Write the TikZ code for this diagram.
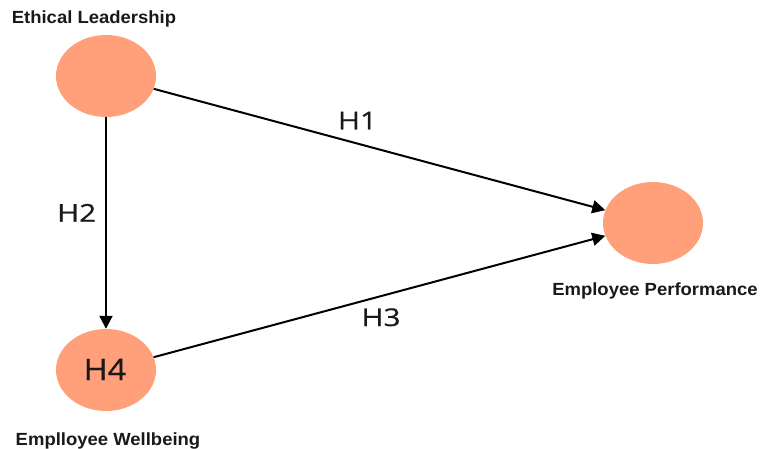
\documentclass[tikz,border=0pt]{standalone}
\usepackage{fontspec}
\usetikzlibrary{shapes.geometric,arrows.meta}
\newfontfamily\lblfont[FakeStretch=1.05]{Liberation Sans}
\newfontfamily\hfont[FakeStretch=1.22,FakeBold=0.6]{Open Sans}
\newfontfamily\hbigfont[FakeStretch=1.1,FakeBold=0.6]{Open Sans}
\definecolor{salmonfill}{RGB}{255,160,122}
\definecolor{txt}{RGB}{25,25,25}
\begin{document}
\begin{tikzpicture}[x=1pt,y=-1pt,
  construct/.style={ellipse,fill=salmonfill,draw=none,minimum width=100pt,minimum height=82pt,inner sep=0pt},
  varlabel/.style={anchor=base,inner sep=0pt,text=txt,font=\lblfont\bfseries\fontsize{17.6}{20}\selectfont},
  hyplabel/.style={anchor=base,inner sep=0pt,text=txt,font=\hfont\fontsize{24.5}{28}\selectfont},
  path/.style={line width=2pt,draw=black,-{Triangle[length=13pt,width=13pt]}}]
\useasboundingbox (0,0) rectangle (761,448);
\node[construct] (el) at (106,76) {};
\node[construct] (ew) at (106,370) {};
\node[construct] (ep) at (653,223) {};
\node[anchor=base,inner sep=0pt,text=txt,font=\hbigfont\fontsize{29.5}{32}\selectfont] (h4) at (105,380) {H4};
\node[varlabel] (lel) at (94,23.7) {Ethical Leadership};
\node[varlabel] (lep) at (655,295.7) {Employee Performance};
\node[varlabel] (lew) at (108,445) {Emplloyee Wellbeing};
\draw[path] (el) -- (ep);
\draw[path] (el) -- (ew);
\draw[path] (ew) -- (ep);
\node[hyplabel] (h1) at (357.5,129.3) {H1};
\node[hyplabel] (h2) at (76.7,221.7) {H2};
\node[hyplabel] (h3) at (381,326) {H3};
\end{tikzpicture}
\end{document}
